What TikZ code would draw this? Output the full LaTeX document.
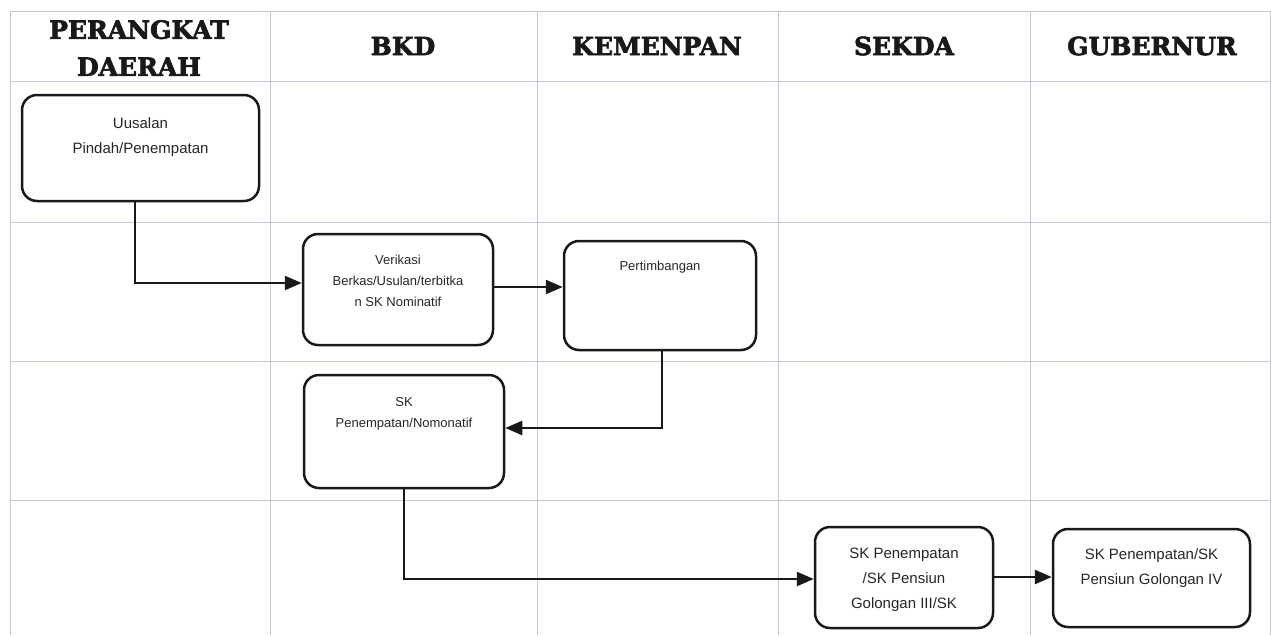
\documentclass[tikz,border=0pt]{standalone}
\usepackage{fontspec}
\setmainfont{Liberation Sans}
\newfontfamily\headfont{DejaVu Serif Bold}[FakeBold=2.6]
\usetikzlibrary{arrows.meta}
\definecolor{gridc}{RGB}{200,196,214}
\tikzset{
  gridline/.style={draw=gridc, line width=0.7pt},
  box/.style={draw=black!90, line width=2.5pt, rounded corners=15pt, inner sep=0pt},
  head/.style={font=\headfont\fontsize{25}{37}\selectfont, align=center, text=black!90},
  txtA/.style={font=\fontsize{15}{25}\selectfont, align=center, inner sep=0pt, text=black!85},
  txtB/.style={font=\fontsize{13}{21}\selectfont, align=center, inner sep=0pt, text=black!85},
  flow/.style={draw=black!90, line width=2.5pt, -{Triangle[length=17pt,width=14pt]}},
}
\begin{document}
\begin{tikzpicture}[x=1pt,y=-1pt]
\useasboundingbox (0,0) rectangle (1271,635);
% grid
\foreach \xx in {10,270,537,778,1030,1270} \draw[gridline] (\xx,11) -- (\xx,635);
\foreach \yy in {11,81,222,361,500} \draw[gridline] (10,\yy) -- (1270,\yy);
% headers
\node[head] (h1) at (139,48) {PERANGKAT\\DAERAH};
\node[head] (h2) at (403,46) {BKD};
\node[head] (h3) at (657,46) {KEMENPAN};
\node[head] (h4) at (904,46) {SEKDA};
\node[head] (h5) at (1152,46) {GUBERNUR};
% boxes
\node[box, minimum width=237pt, minimum height=106pt] (b1) at (140.5,148) {};
\node[box, minimum width=190pt, minimum height=111pt] (b2) at (398,289.5) {};
\node[box, minimum width=192pt, minimum height=109pt] (b3) at (660,295.5) {};
\node[box, minimum width=200pt, minimum height=113pt] (b4) at (404,431.5) {};
\node[box, minimum width=178pt, minimum height=101pt] (b5) at (904,577.5) {};
\node[box, minimum width=197pt, minimum height=98pt] (b6) at (1151.5,578) {};
% texts
\node[txtA] (t1) at (140.5,137) {Uusalan\\Pindah/Penempatan};
\node[txtB] (t2) at (398,281) {Verikasi\\Berkas/Usulan/terbitka\\n SK Nominatif};
\node[txtB] (t3) at (660,267) {Pertimbangan};
\node[txtB] (t4) at (404,414) {SK\\Penempatan/Nomonatif};
\node[txtA] (t5) at (904,580) {SK Penempatan\\/SK Pensiun\\Golongan III/SK};
\node[txtA] (t6) at (1151.5,568) {SK Penempatan/SK\\Pensiun Golongan IV};
% connectors
\draw[flow] (b1.south -| 135,0) |- (b2.west |- 0,283);
\draw[flow] (b2.east |- 0,287) -- (b3.west |- 0,287);
\draw[flow] (b3.south -| 662,0) |- (b4.east |- 0,428);
\draw[flow] (b4.south) |- (b5.west |- 0,579);
\draw[flow] (b5.east |- 0,577) -- (b6.west |- 0,577);
\end{tikzpicture}
\end{document}
